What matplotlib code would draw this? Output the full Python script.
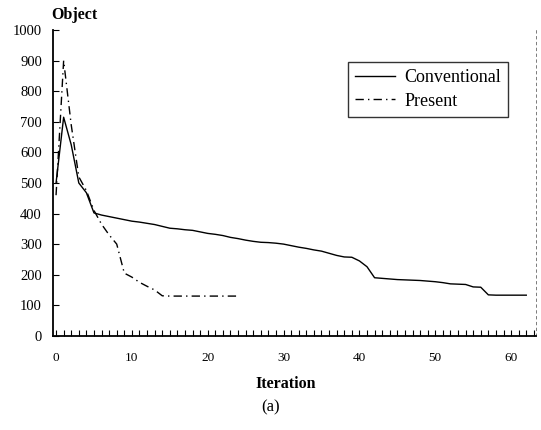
import numpy as np
import matplotlib
matplotlib.use("Agg")
import matplotlib.pyplot as plt
from matplotlib.ticker import MultipleLocator

plt.rcParams['font.family'] = ['Liberation Serif', 'DejaVu Serif']

# values
iter_conv = list(range(0, 63))
conventional = [500, 715, 625, 500, 468, 402, 395, 390, 385, 380,
                375, 372, 368, 364, 358, 352, 350, 347, 345, 340,
                335, 332, 328, 322, 318, 313, 309, 306, 305, 303,
                300, 295, 290, 286, 281, 277, 270, 263, 258, 257,
                245, 226, 190, 188, 186, 184, 183, 182, 181, 179,
                177, 174, 170, 169, 168, 160, 159, 134, 133, 133,
                133, 133, 133]
iter_pres = list(range(0, 25))
present = [460, 900, 690, 520, 475, 410, 365, 330, 300, 205,
           192, 175, 162, 150, 131, 130, 130, 130, 130, 130,
           130, 130, 130, 130, 130]

fig = plt.figure(figsize=(5.41, 4.30), dpi=100)
ax = fig.add_axes([0.098, 0.219, 0.893, 0.711])

ax.plot(iter_conv, conventional, color='black', lw=1.0, linestyle='-', label='Conventional')
ax.plot(iter_pres, present, color='black', lw=1.0, linestyle=(0, (6, 3, 1, 3)), label='Present')

ax.set_xlim(-0.4, 63.3)
ax.set_ylim(0, 1000)
ax.xaxis.set_major_locator(MultipleLocator(10))
ax.xaxis.set_minor_locator(MultipleLocator(1))
ax.yaxis.set_major_locator(MultipleLocator(100))
ax.tick_params(axis='x', which='both', direction='in', length=4, width=0.8, pad=12, labelsize=9.5)
ax.tick_params(axis='y', which='major', direction='in', length=4, width=0.8, pad=8, labelsize=10.5)

ax.spines['top'].set_visible(False)
ax.spines['left'].set_linewidth(1.3)
ax.spines['bottom'].set_linewidth(1.3)
ax.spines['right'].set_linestyle((0, (3, 4)))
ax.spines['right'].set_linewidth(0.6)
ax.spines['right'].set_color('#666666')

leg = ax.legend(loc='upper right', bbox_to_anchor=(0.942, 0.895), fontsize=13,
                frameon=True, fancybox=False, handlelength=2.2, borderpad=0.4,
                labelspacing=0.35, handletextpad=0.5, borderaxespad=0)
leg.get_frame().set_edgecolor('black')
leg.get_frame().set_linewidth(1.0)

fig.text(0.137, 0.965, 'Object', fontsize=11.5, fontweight='bold', ha='center', va='center')
fig.text(0.529, 0.107, 'Iteration', fontsize=11.5, fontweight='bold', ha='center', va='center')
fig.text(0.5, 0.053, '(a)', fontsize=12, ha='center', va='center')

fig.savefig('out.png', dpi=100)
